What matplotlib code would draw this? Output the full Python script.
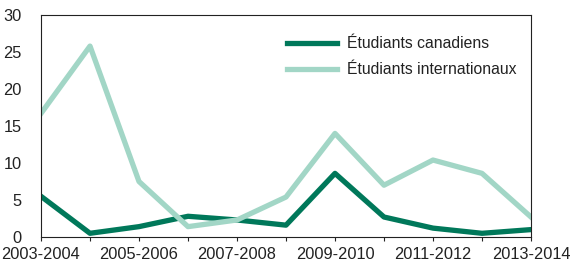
import matplotlib
matplotlib.use("Agg")
import matplotlib.pyplot as plt

categories = ["2003-2004", "2004-2005", "2005-2006", "2006-2007", "2007-2008",
              "2008-2009", "2009-2010", "2010-2011", "2011-2012", "2012-2013", "2013-2014"]
canadiens = [5.5, 0.5, 1.4, 2.8, 2.3, 1.6, 8.6, 2.7, 1.2, 0.5, 1.0]
internationaux = [16.7, 25.8, 7.5, 1.4, 2.3, 5.4, 14.0, 7.0, 10.4, 8.6, 2.7]
yticks = [0, 5, 10, 15, 20, 25, 30]

plt.rcParams['font.family'] = ['Liberation Sans', 'DejaVu Sans']
FS = 11.8
LFS = 11.3

fig = plt.figure(figsize=(5.72, 2.66), dpi=100)
ax = fig.add_axes([41/572, 29/266, 490/572, 222/266])
x = list(range(len(categories)))
ax.plot(x, canadiens, color='#00785a', lw=3.8, label='Étudiants canadiens')
ax.plot(x, internationaux, color='#a2d6c6', lw=3.8, label='Étudiants internationaux')
ax.set_xlim(0, len(categories) - 1)
ax.set_ylim(0, 30)
ax.set_yticks(yticks)
ax.set_xticks(x)
ax.set_xticklabels([c if i % 2 == 0 else '' for i, c in enumerate(categories)])
ax.tick_params(axis='x', direction='out', length=3, width=0.8, labelsize=FS, pad=4.5, colors='#222222')
ax.tick_params(axis='y', length=0, labelsize=FS, pad=14, colors='#222222')
for s in ax.spines.values():
    s.set_linewidth(0.8)
    s.set_color('#222222')
leg = ax.legend(loc='upper left', frameon=False, fontsize=LFS, handlelength=3.2,
                handletextpad=0.6, bbox_to_anchor=(0.502, 0.904), labelspacing=0.7,
                borderaxespad=0.0, borderpad=0.0)
for t in leg.get_texts():
    t.set_color('#222222')
fig.savefig('out.png', dpi=100)
